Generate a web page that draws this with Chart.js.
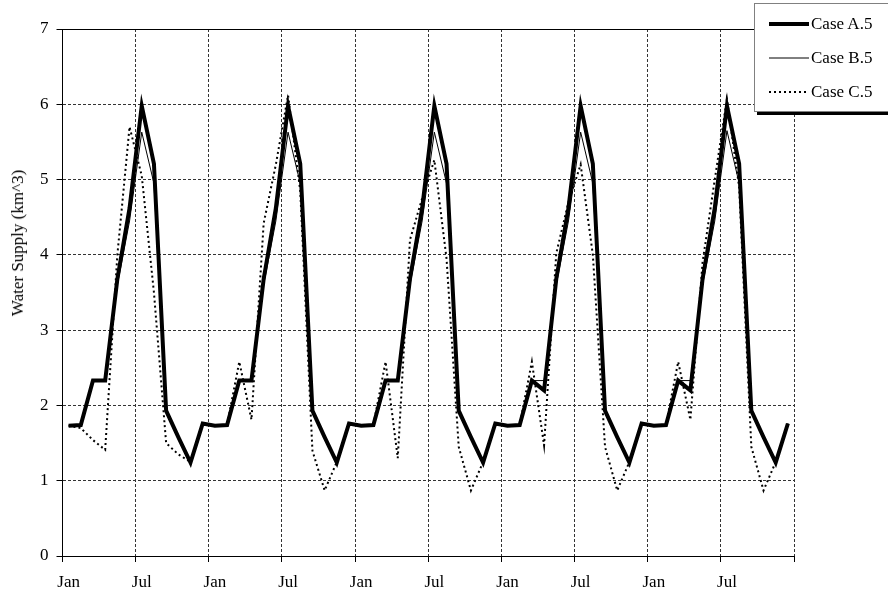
<!DOCTYPE html>
<html lang="en">
<head>
  <meta charset="UTF-8" />
  <title>Water Supply</title>
  <script src="https://cdn.jsdelivr.net/npm/chart.js"></script>
  <style>
    html, body { margin: 0; padding: 0; background: #fff; }
    #wrap {
      position: relative; width: 888px; height: 598px; overflow: hidden;
      font-family: "Liberation Serif", "Times New Roman", serif; color: #000;
    }
    #ytitle {
      position: absolute; left: 18px; top: 243px; font-size: 17px; white-space: nowrap;
      transform: translate(-50%, -50%) rotate(-90deg);
    }
    #legend {
      position: absolute; left: 754px; top: 3px; width: 150px; height: 107px;
      border: 1px solid #808080; background: #fff; box-shadow: 3px 3px 0 #000;
    }
    .row { position: absolute; left: 14px; height: 20px; display: flex; align-items: center; font-size: 17px; }
    .row svg { margin-right: 2px; }
  </style>
</head>
<body>
  <div id="wrap">
    <canvas id="chart" width="888" height="598"></canvas>
    <div id="ytitle">Water Supply (km^3)</div>
    <div id="legend"></div>
  </div>

  <script>
    // months of the five simulated years
    const monthNames = ['Jan', 'Feb', 'Mar', 'Apr', 'May', 'Jun', 'Jul', 'Aug', 'Sep', 'Oct', 'Nov', 'Dec'];
    const categories = [];
    for (let y = 0; y < 5; y++) categories.push(...monthNames);

    const yTicks = [0, 1, 2, 3, 4, 5, 6, 7];
    const seriesNames = ['Case A.5', 'Case B.5', 'Case C.5'];

    const caseA = [
      1.73, 1.74, 2.33, 2.33, 3.68, 4.62, 5.98, 5.21, 1.93, 1.58, 1.24, 1.76,
      1.73, 1.74, 2.33, 2.33, 3.68, 4.62, 5.98, 5.21, 1.93, 1.58, 1.24, 1.76,
      1.73, 1.74, 2.33, 2.33, 3.68, 4.62, 5.98, 5.21, 1.93, 1.58, 1.24, 1.76,
      1.73, 1.74, 2.33, 2.20, 3.68, 4.62, 5.98, 5.21, 1.93, 1.58, 1.24, 1.76,
      1.73, 1.74, 2.33, 2.20, 3.68, 4.62, 5.98, 5.21, 1.93, 1.58, 1.24, 1.76
    ];
    const caseB = [
      1.73, 1.74, 2.33, 2.33, 3.60, 4.45, 5.63, 4.95, 1.93, 1.58, 1.24, 1.76,
      1.73, 1.74, 2.33, 2.33, 3.60, 4.45, 5.63, 4.95, 1.93, 1.58, 1.24, 1.76,
      1.73, 1.74, 2.33, 2.33, 3.60, 4.45, 5.63, 4.95, 1.93, 1.58, 1.24, 1.76,
      1.73, 1.74, 2.33, 2.33, 3.60, 4.45, 5.63, 4.95, 1.93, 1.58, 1.24, 1.76,
      1.73, 1.74, 2.33, 2.33, 3.60, 4.45, 5.65, 4.95, 1.93, 1.58, 1.24, 1.76
    ];
    const caseC = [
      1.73, 1.70, 1.54, 1.41, 4.00, 5.70, 5.05, 3.50, 1.50, 1.35, 1.25, 1.76,
      1.73, 1.74, 2.58, 1.81, 4.42, 5.20, 6.12, 4.85, 1.40, 0.87, 1.25, 1.76,
      1.73, 1.74, 2.58, 1.30, 4.20, 4.75, 5.26, 3.95, 1.45, 0.87, 1.25, 1.76,
      1.73, 1.74, 2.58, 1.47, 4.02, 4.70, 5.20, 4.00, 1.45, 0.87, 1.25, 1.76,
      1.73, 1.74, 2.58, 1.81, 3.90, 5.00, 6.07, 4.90, 1.45, 0.87, 1.25, 1.76
    ];

    const styles = [
      { width: 4, dash: [] },
      { width: 1, dash: [] },
      { width: 2, dash: [2, 3] }
    ];

    const FONT = { family: '"Liberation Serif", "Times New Roman", serif', size: 17 };
    const GRID = '#333333';

    // every 6th month boundary gets a grid line and a tick
    const everySix = (on, off) => c => (c.type !== 'tick' || c.index % 6 === 0) ? on : off;

    new Chart(document.getElementById('chart'), {
      type: 'line',
      data: {
        labels: categories,
        datasets: [caseA, caseB, caseC].map((d, i) => ({
          label: seriesNames[i],
          data: d,
          borderColor: '#000',
          borderWidth: styles[i].width,
          borderDash: styles[i].dash,
          pointRadius: 0,
          tension: 0,
          fill: false
        }))
      },
      options: {
        responsive: false,
        animation: false,
        layout: { padding: { left: 32, right: 94, top: 29, bottom: 0 } },
        plugins: { legend: { display: false }, tooltip: { enabled: false } },
        scales: {
          x: {
            offset: true,
            afterFit: s => { s.height = 42; },
            grid: {
              offset: true,
              color: everySix(GRID, 'rgba(0,0,0,0)'),
              tickColor: everySix('#000', 'rgba(0,0,0,0)'),
              tickLength: 6
            },
            border: { color: '#000', width: 1, dash: [3, 2] },
            ticks: {
              autoSkip: false, maxRotation: 0, minRotation: 0, padding: 10,
              color: '#000', font: FONT,
              callback: (v, i) => i % 6 === 0 ? categories[i] : ''
            }
          },
          y: {
            min: yTicks[0],
            max: yTicks[yTicks.length - 1],
            afterBuildTicks: s => { s.ticks = yTicks.map(v => ({ value: v })); },
            grid: {
              color: c => c.tick && c.tick.value === 7 ? '#000' : GRID,
              tickColor: '#000',
              tickLength: 6
            },
            border: {
              color: '#000', width: 1,
              dash: c => c.tick && c.tick.value === 7 ? [] : [3, 2]
            },
            ticks: { padding: 8, color: '#000', font: FONT }
          }
        }
      }
    });

    // legend box
    const legend = document.getElementById('legend');
    const rowTops = [10, 44, 78];
    seriesNames.forEach((name, i) => {
      const row = document.createElement('div');
      row.className = 'row';
      row.style.top = rowTops[i] + 'px';
      const dash = styles[i].dash.length ? ` stroke-dasharray="${styles[i].dash.join(' ')}"` : '';
      row.innerHTML = `<svg width="40" height="8"><line x1="0" y1="4" x2="40" y2="4" stroke="#000" stroke-width="${styles[i].width}"${dash}/></svg>${name}`;
      legend.appendChild(row);
    });
  </script>
</body>
</html>
